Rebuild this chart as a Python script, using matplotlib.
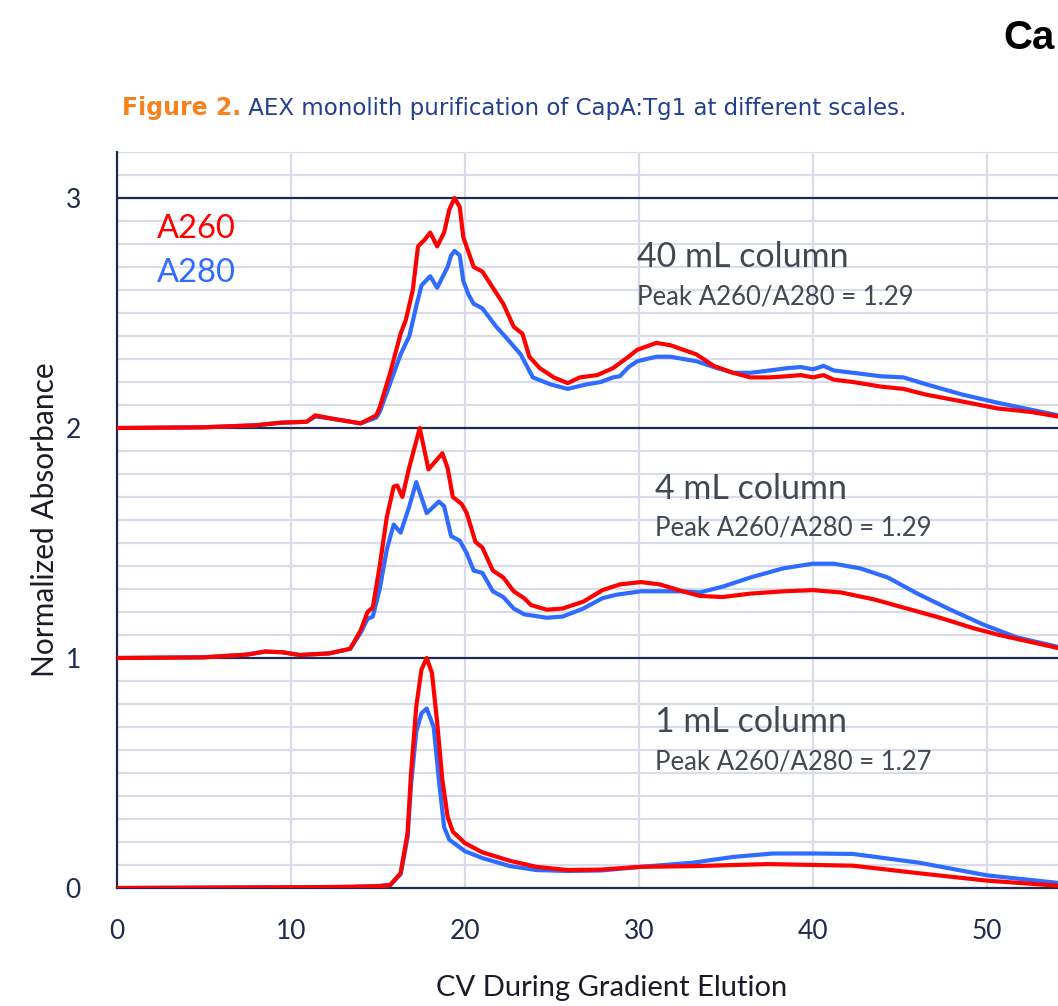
import matplotlib
matplotlib.use('Agg')
import matplotlib.pyplot as plt
from matplotlib.ticker import MultipleLocator

plt.rcParams['font.family'] = ['Lato', 'DejaVu Sans']

# ---------------- data (normalized absorbance, each trace 0..1) ----------------
# 40 mL column (stacked at +2)
x40_a260 = [0, 5, 8, 9.4, 10.9, 11.4, 12.4, 14.0, 14.9, 15.1, 15.7, 16.3, 16.6, 17.0, 17.3,
            17.7, 18.0, 18.4, 18.8, 19.1, 19.4, 19.7, 19.9, 20.2, 20.5, 21.0, 21.6, 22.2,
            22.8, 23.3, 23.7, 24.3, 25.1, 25.9, 26.6, 27.6, 28.5, 29.4, 29.9, 31.0, 31.8,
            33.3, 34.3, 35.4, 36.4, 37.5, 38.5, 39.3, 40.0, 40.6, 41.2, 42.3, 43.9, 45.2,
            46.5, 48.6, 50.6, 52.5, 54.1, 56.0]
y40_a260 = [0, 0.003, 0.012, 0.023, 0.027, 0.055, 0.04, 0.02, 0.055, 0.09, 0.24, 0.41, 0.47,
            0.60, 0.79, 0.82, 0.85, 0.79, 0.85, 0.95, 1.0, 0.96, 0.83, 0.765, 0.70, 0.68,
            0.61, 0.54, 0.44, 0.41, 0.31, 0.26, 0.22, 0.195, 0.22, 0.23, 0.26, 0.31, 0.34,
            0.37, 0.36, 0.32, 0.27, 0.24, 0.22, 0.22, 0.225, 0.23, 0.22, 0.23, 0.21, 0.20,
            0.18, 0.17, 0.145, 0.115, 0.085, 0.07, 0.05, 0.04]
x40_a280 = [0, 5, 8, 9.4, 10.9, 11.4, 12.4, 14.0, 14.9, 15.1, 15.7, 16.3, 16.8, 17.2, 17.5,
            18.0, 18.4, 19.0, 19.2, 19.4, 19.7, 19.9, 20.2, 20.5, 21.0, 21.8, 22.4, 23.2,
            23.9, 24.9, 25.9, 27.0, 27.8, 28.5, 28.9, 29.4, 29.9, 31.0, 31.8, 33.3, 34.3,
            35.4, 36.4, 37.5, 38.5, 39.3, 40.0, 40.6, 41.2, 42.3, 43.9, 45.2, 46.5, 48.6,
            50.6, 52.5, 54.1, 56.0]
y40_a280 = [0, 0.003, 0.012, 0.023, 0.027, 0.05, 0.04, 0.02, 0.045, 0.07, 0.195, 0.32, 0.40,
            0.53, 0.62, 0.66, 0.61, 0.70, 0.75, 0.77, 0.75, 0.64, 0.58, 0.54, 0.52, 0.44,
            0.39, 0.32, 0.22, 0.19, 0.17, 0.19, 0.20, 0.22, 0.225, 0.265, 0.29, 0.31, 0.31,
            0.29, 0.265, 0.24, 0.24, 0.25, 0.26, 0.265, 0.255, 0.27, 0.25, 0.24, 0.225,
            0.22, 0.19, 0.145, 0.11, 0.08, 0.055, 0.045]

# 4 mL column (stacked at +1)
x4_a260 = [0, 5, 7.5, 8.5, 9.5, 10.5, 12.2, 13.4, 14.0, 14.4, 14.7, 15.1, 15.5, 15.9, 16.1,
           16.4, 16.8, 17.4, 17.9, 18.7, 19.0, 19.3, 19.8, 20.1, 20.6, 21.0, 21.6, 22.2,
           22.8, 23.4, 23.8, 24.7, 25.6, 26.8, 27.9, 28.9, 30.1, 31.2, 32.5, 33.5, 34.8,
           36.4, 38.3, 40.0, 41.6, 43.5, 45.4, 47.3, 49.2, 50.7, 52.5, 54.1, 56.0]
y4_a260 = [0, 0.003, 0.015, 0.028, 0.025, 0.013, 0.02, 0.04, 0.12, 0.20, 0.22, 0.40, 0.61,
           0.745, 0.75, 0.70, 0.83, 1.0, 0.82, 0.89, 0.826, 0.70, 0.67, 0.63, 0.505, 0.48,
           0.38, 0.35, 0.29, 0.26, 0.23, 0.21, 0.215, 0.245, 0.295, 0.32, 0.33, 0.32, 0.29,
           0.27, 0.265, 0.28, 0.29, 0.295, 0.285, 0.255, 0.215, 0.175, 0.13, 0.10, 0.07,
           0.043, 0.03]
x4_a280 = [0, 5, 7.5, 8.5, 9.5, 10.5, 12.2, 13.4, 14.0, 14.4, 14.7, 15.1, 15.5, 15.9, 16.3,
           16.8, 17.2, 17.8, 18.5, 18.8, 19.2, 19.7, 20.1, 20.5, 21.0, 21.6, 22.2, 22.8,
           23.4, 24.7, 25.6, 26.8, 27.9, 28.7, 30.1, 31.2, 32.5, 33.5, 34.8, 36.4, 38.3,
           40.0, 41.2, 42.7, 44.3, 46.0, 47.9, 49.8, 51.7, 54.1, 56.0]
y4_a280 = [0, 0.003, 0.015, 0.028, 0.025, 0.013, 0.02, 0.04, 0.11, 0.17, 0.18, 0.30, 0.47,
           0.58, 0.545, 0.66, 0.765, 0.63, 0.68, 0.66, 0.53, 0.51, 0.455, 0.38, 0.37, 0.29,
           0.265, 0.215, 0.19, 0.175, 0.18, 0.215, 0.26, 0.275, 0.29, 0.29, 0.29, 0.285,
           0.31, 0.35, 0.39, 0.41, 0.41, 0.39, 0.35, 0.28, 0.21, 0.145, 0.09, 0.048, 0.03]

# 1 mL column (stacked at 0)
x1_a260 = [0, 10, 13.4, 15.0, 15.7, 16.3, 16.7, 16.9, 17.2, 17.5, 17.8, 18.1, 18.4, 18.7,
           19.0, 19.3, 20.0, 21.0, 22.6, 24.1, 25.9, 27.8, 30.1, 33.1, 37.4, 42.3, 46.1,
           50.0, 54.1, 56.0]
y1_a260 = [0, 0.003, 0.005, 0.008, 0.013, 0.065, 0.24, 0.50, 0.79, 0.95, 1.0, 0.935, 0.72,
           0.47, 0.31, 0.245, 0.195, 0.155, 0.118, 0.092, 0.078, 0.08, 0.092, 0.095, 0.104,
           0.097, 0.064, 0.032, 0.01, 0.005]
x1_a280 = [0, 10, 13.4, 15.0, 15.7, 16.3, 16.7, 16.9, 17.2, 17.5, 17.8, 18.2, 18.5, 18.8,
           19.1, 20.0, 21.0, 22.6, 24.1, 25.9, 27.8, 30.1, 33.1, 35.4, 37.7, 40.0, 42.3,
           46.1, 50.0, 54.1, 56.0]
y1_a280 = [0, 0.003, 0.005, 0.008, 0.013, 0.06, 0.22, 0.45, 0.68, 0.76, 0.78, 0.70, 0.47,
           0.265, 0.21, 0.16, 0.13, 0.095, 0.078, 0.074, 0.076, 0.092, 0.11, 0.135, 0.15,
           0.15, 0.148, 0.11, 0.055, 0.022, 0.015]

columns = ['40 mL column', '4 mL column', '1 mL column']
ratios = ['Peak A260/A280 = 1.29', 'Peak A260/A280 = 1.29', 'Peak A260/A280 = 1.27']
x_ticks = [0, 10, 20, 30, 40, 50]
y_ticks = [0, 1, 2, 3]

RED = '#ff0000'
BLUE = '#2f6bff'
NAVY = '#1b2a4e'
GRID = '#d9dce8'
TXT = '#404952'

fig = plt.figure(figsize=(10.58, 10.06), dpi=100)
ax = fig.add_axes([117 / 1058, 118 / 1006, 1044 / 1058, 736 / 1006])
ax.set_xlim(0, 60)
ax.set_ylim(0, 3.2)

ax.set_xticks(x_ticks)
ax.set_yticks(y_ticks)
ax.yaxis.set_minor_locator(MultipleLocator(0.1))
ax.grid(which='minor', axis='y', color=GRID, lw=1.6, zorder=0)
ax.grid(which='major', axis='x', color=GRID, lw=1.6, zorder=0)
for yv in [1, 2, 3]:
    ax.axhline(yv, color=NAVY, lw=1.6, zorder=1)
ax.set_axisbelow(True)

for s in ['top', 'right']:
    ax.spines[s].set_visible(False)
for s in ['left', 'bottom']:
    ax.spines[s].set_color(NAVY)
    ax.spines[s].set_linewidth(1.6)
ax.tick_params(which='both', length=0)
ax.tick_params(axis='y', pad=26, labelsize=19, labelcolor=NAVY)
ax.tick_params(axis='x', pad=22, labelsize=19, labelcolor=NAVY)

series = [(x40_a260, y40_a260, x40_a280, y40_a280, 2),
          (x4_a260, y4_a260, x4_a280, y4_a280, 1),
          (x1_a260, y1_a260, x1_a280, y1_a280, 0)]
for xr, yr, xb, yb, off in series:
    ax.plot(xb, [v + off for v in yb], color=BLUE, lw=3.0, zorder=3,
            solid_joinstyle='round', solid_capstyle='round')
for xr, yr, xb, yb, off in series:
    ax.plot(xr, [v + off for v in yr], color=RED, lw=3.0, zorder=4,
            solid_joinstyle='round', solid_capstyle='round')

# labels
ax.text(2.3, 2.865, 'A260', color=RED, fontsize=23.5, va='center', ha='left')
ax.text(2.3, 2.674, 'A280', color=BLUE, fontsize=23.5, va='center', ha='left')

label_pos = [(29.9, 2.743, 2.57), (30.9, 1.735, 1.565), (30.9, 0.722, 0.548)]
for (xp, y1, y2), c, r in zip(label_pos, columns, ratios):
    ax.text(xp, y1, c, color=TXT, fontsize=24.5, va='center', ha='left')
    ax.text(xp, y2, r, color=TXT, fontsize=18.5, va='center', ha='left')

fig.text(45 / 1058, 1 - 520 / 1006, 'Normalized Absorbance', rotation=90,
         fontsize=21.5, color='#1a1a2a', va='center', ha='center')
fig.text(612 / 1058, 1 - 988 / 1006, 'CV During Gradient Elution',
         fontsize=21, color='#1a1a2a', va='center', ha='center')

t = fig.text(122 / 1058, 1 - 108 / 1006, 'Figure 2.', color='#f5821f', fontsize=17,
             fontweight='bold', va='center', ha='left', family=['DejaVu Sans'])
ax.annotate(' AEX monolith purification of CapA:Tg1 at different scales.',
            xy=(1, 0.5), xycoords=t, va='center', ha='left', fontsize=16.5,
            color='#22408f', annotation_clip=False, family=['DejaVu Sans'])

fig.text(1003 / 1058, 1 - 38 / 1006, 'Ca', fontsize=29, fontweight='bold',
         color='black', va='center', ha='left', family=['Liberation Sans'])

fig.savefig('out.png', dpi=100)
